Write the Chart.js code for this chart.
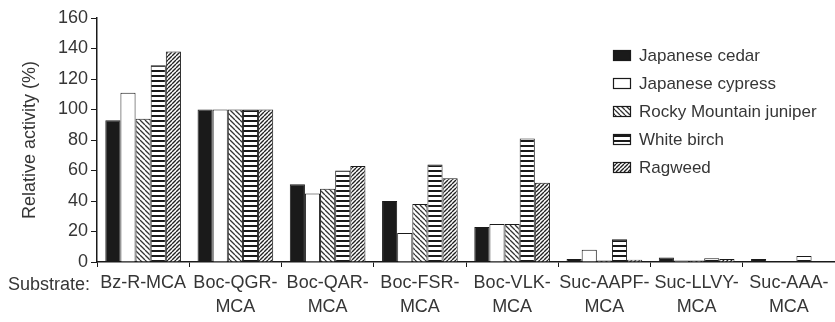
<!DOCTYPE html>
<html>
<head>
<meta charset="utf-8">
<script src="https://cdn.jsdelivr.net/npm/chart.js@4/dist/chart.umd.min.js"></script>
<style>
  html, body { margin: 0; padding: 0; background: #fff; }
  #wrap { width: 835px; height: 322px; }
</style>
</head>
<body>
<div id="wrap"><canvas id="c" width="835" height="322"></canvas></div>
<script>
// Substrate categories (two-line tick labels)
const substrates = [
  ['Bz-R-MCA'],
  ['Boc-QGR-', 'MCA'],
  ['Boc-QAR-', 'MCA'],
  ['Boc-FSR-', 'MCA'],
  ['Boc-VLK-', 'MCA'],
  ['Suc-AAPF-', 'MCA'],
  ['Suc-LLVY-', 'MCA'],
  ['Suc-AAA-', 'MCA']
];

// Relative activity (%) per pollen source
const japaneseCedar   = [93, 100, 51, 40, 23, 2, 3, 2];
const japaneseCypress = [111, 100, 45, 19, 25, 8, 1, 0];
const rockyJuniper    = [94, 100, 48, 38, 25, 1, 1, 0];
const whiteBirch      = [129, 100, 60, 64, 81, 15, 2.5, 4];
const ragweed         = [138, 100, 63, 55, 52, 1.5, 2, 0];

const seriesNames = ['Japanese cedar', 'Japanese cypress', 'Rocky Mountain juniper', 'White birch', 'Ragweed'];
const yTicks = [0, 20, 40, 60, 80, 100, 120, 140, 160];

const INK = '#1a1a1a';
const TEXT = '#363636';
const FONT = '"Liberation Sans", Arial, Helvetica, sans-serif';
const FSIZE = 18;
const LEGEND_SIZE = 17;

function makePattern(w, h, draw) {
  const cv = document.createElement('canvas');
  cv.width = w; cv.height = h;
  const g = cv.getContext('2d');
  g.fillStyle = '#fff';
  g.fillRect(0, 0, w, h);
  draw(g, w, h);
  return g.createPattern(cv, 'repeat');
}

// horizontal bands
const hStripes = makePattern(8, 5, (g, w) => {
  g.fillStyle = INK;
  g.fillRect(0, 0, w, 2);
});
// "\\\" hatching
const backHatch = makePattern(5, 5, (g, w, h) => {
  g.strokeStyle = '#333';
  g.lineWidth = 1.3;
  g.beginPath();
  for (let k = -1; k <= 1; k++) {
    g.moveTo(k * w, 0); g.lineTo(k * w + w, h);
  }
  g.stroke();
});
// "///" hatching
const fwdHatch = makePattern(4, 4, (g, w, h) => {
  g.strokeStyle = '#222';
  g.lineWidth = 1.4;
  g.beginPath();
  for (let k = -1; k <= 1; k++) {
    g.moveTo(k * w, h); g.lineTo(k * w + w, 0);
  }
  g.stroke();
});

const fills = [INK, '#ffffff', backHatch, hStripes, fwdHatch];
const values = [japaneseCedar, japaneseCypress, rockyJuniper, whiteBirch, ragweed];

const datasets = seriesNames.map((name, i) => ({
  label: name,
  data: values[i],
  backgroundColor: fills[i],
  borderColor: INK,
  borderWidth: 1,
  borderSkipped: 'bottom',
  categoryPercentage: 0.82,
  barPercentage: 1.0
}));

// Legend block and the "Substrate:" caption
const extras = {
  id: 'extras',
  afterDraw(chart) {
    const ctx = chart.ctx;
    ctx.save();
    ctx.textBaseline = 'middle';
    ctx.textAlign = 'left';
    ctx.font = LEGEND_SIZE + 'px ' + FONT;
    const x0 = 613, y0 = 55, step = 28;
    chart.data.datasets.forEach((ds, i) => {
      const y = y0 + i * step;
      ctx.fillStyle = ds.backgroundColor;
      ctx.fillRect(x0, y - 5, 18, 11);
      ctx.strokeStyle = INK;
      ctx.lineWidth = 1.2;
      ctx.strokeRect(x0 + 0.5, y - 4.5, 17, 10);
      ctx.fillStyle = TEXT;
      ctx.fillText(ds.label, x0 + 26, y + 1);
    });
    ctx.font = FSIZE + 'px ' + FONT;
    ctx.fillStyle = TEXT;
    ctx.fillText('Substrate:', 8, 285);
    ctx.restore();
  }
};

new Chart(document.getElementById('c'), {
  type: 'bar',
  data: { labels: substrates, datasets },
  options: {
    responsive: false,
    animation: false,
    layout: { padding: { top: 18, left: 0, right: 0, bottom: 0 } },
    plugins: { legend: { display: false }, tooltip: { enabled: false } },
    scales: {
      x: {
        grid: { display: true, drawOnChartArea: false, drawTicks: true, tickLength: 5, color: INK, offset: true },
        border: { display: true, color: INK, width: 1.5 },
        ticks: {
          color: TEXT,
          font: { family: FONT, size: FSIZE, lineHeight: 1.35 },
          padding: 4,
          maxRotation: 0,
          autoSkip: false
        },
        afterFit(scale) { scale.height = 60; }
      },
      y: {
        min: 0,
        max: 160,
        afterBuildTicks(scale) { scale.ticks = yTicks.map(v => ({ value: v })); },
        grid: { display: true, drawOnChartArea: false, drawTicks: true, tickLength: 6, color: INK },
        border: { display: true, color: INK, width: 1.5 },
        ticks: {
          color: TEXT,
          font: { family: FONT, size: FSIZE },
          padding: 3
        },
        title: {
          display: true,
          text: 'Relative activity (%)',
          color: TEXT,
          font: { family: FONT, size: FSIZE },
          padding: { top: 19, bottom: 0 }
        },
        afterFit(scale) { scale.width = 97; }
      }
    }
  },
  plugins: [extras]
});
</script>
</body>
</html>
